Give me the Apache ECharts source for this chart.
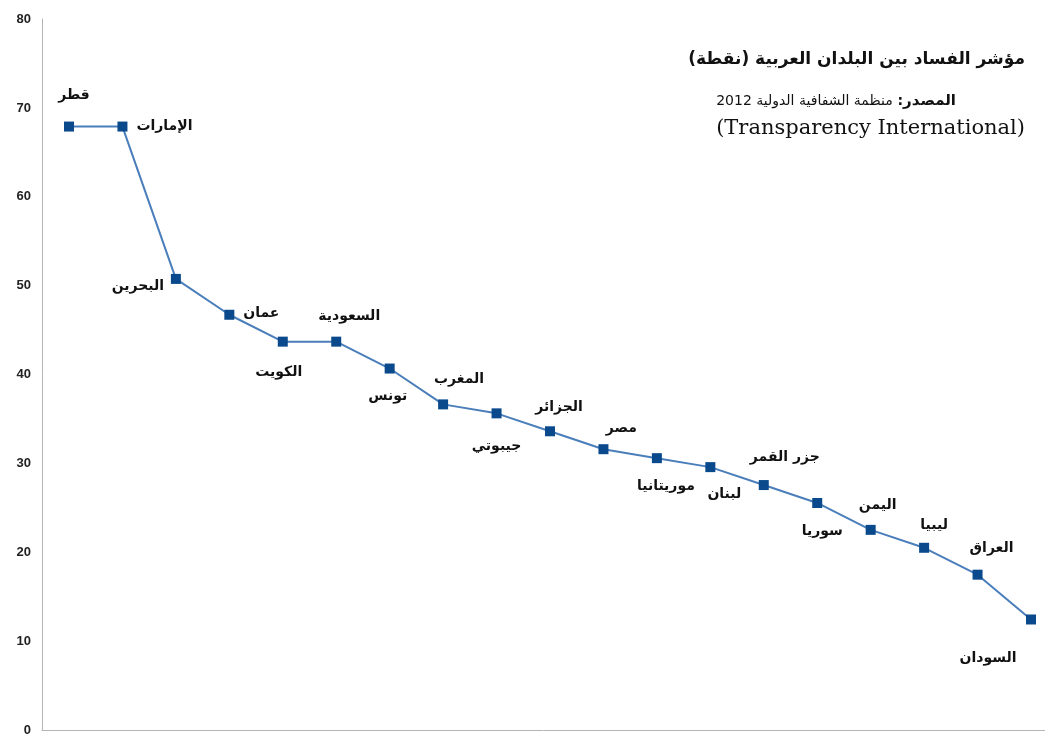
<!DOCTYPE html>
<html><head><meta charset="utf-8">
<script src="https://cdn.jsdelivr.net/npm/echarts@6/dist/echarts.min.js"></script>
<style>html,body{margin:0;padding:0;background:#fff}#c{width:1045px;height:737px}</style>
</head><body><div id="c"></div>
<script>
const countries = ['قطر','الإمارات','البحرين','عمان','الكويت','السعودية','تونس','المغرب','جيبوتي','الجزائر','مصر','موريتانيا','لبنان','جزر القمر','سوريا','اليمن','ليبيا','العراق','السودان'];
const scores = [68,68,51,47,44,44,41,37,36,34,32,31,30,28,26,23,21,18,13];
const yTicks = {min:0, max:80, interval:10};
const titleText = 'مؤشر الفساد بين البلدان العربية (نقطة)';
const sourceLabel = 'المصدر';
const sourceText = 'منظمة الشفافية الدولية 2012';
const sourceEn = '(Transparency International)';

// label offsets (style) relative to each marker centre
const labelOffsets = [[5,-31],[42,0],[-38,7],[32,-1],[-4,31],[13,-25],[-2,28],[16,-25],[0,33],[9,-24],[18,-21],[9,28],[14,27],[21,-28],[5,28],[7,-25],[10,-22],[14,-26],[-43,39]];

const RLM = '\u200F';
const chart = echarts.init(document.getElementById('c'));
chart.setOption({
  animation:false,
  backgroundColor:'#fff',
  grid:[
    {left:69, right:14, top:19, height:717},
    {left:42, right:0, top:19, height:717}
  ],
  title:[{
    text: titleText + RLM,
    right:15, top:46,
    textStyle:{fontFamily:'DejaVu Sans', fontWeight:'bold', fontSize:17, color:'#111'}
  },{
    text:'{r|'+sourceText+RLM+'}{c| :}{b|'+sourceLabel+'}\n{e|'+sourceEn+'}',
    right:15, top:83,
    textStyle:{fontWeight:'normal', rich:{
      r:{fontFamily:'DejaVu Sans', fontWeight:'normal', fontSize:14, color:'#111', lineHeight:27},
      c:{fontFamily:'DejaVu Sans', fontWeight:'bold', fontSize:14, color:'#111', lineHeight:27},
      b:{fontFamily:'DejaVu Sans', fontWeight:'bold', fontSize:15, color:'#111', lineHeight:27},
      e:{fontFamily:'DejaVu Serif', fontWeight:'normal', fontSize:21, color:'#111', lineHeight:27, align:'right'}
    }}
  }],
  xAxis:[
    {type:'category', gridIndex:0, data:countries, boundaryGap:false,
      axisLine:{show:false}, axisTick:{show:false}, axisLabel:{show:false}, splitLine:{show:false}},
    {type:'category', gridIndex:1, data:countries, boundaryGap:true,
      axisLine:{lineStyle:{color:'#b5b5b5', width:1}}, axisTick:{show:false}, axisLabel:{show:false}, splitLine:{show:false}}
  ],
  yAxis:[
    {type:'value', gridIndex:0, min:yTicks.min, max:yTicks.max, interval:yTicks.interval,
      axisLine:{show:false}, axisTick:{show:false}, axisLabel:{show:false}, splitLine:{show:false}},
    {type:'value', gridIndex:1, min:yTicks.min, max:yTicks.max, interval:yTicks.interval,
      axisLine:{show:true, lineStyle:{color:'#b5b5b5', width:1}}, axisTick:{show:false}, splitLine:{show:false},
      axisLabel:{margin:11, fontFamily:'Liberation Sans', fontWeight:'bold', fontSize:13, color:'#222'}}
  ],
  series:[{
    type:'line', xAxisIndex:0, yAxisIndex:0,
    data: scores.map((v,i)=>({value:v, label:{offset:labelOffsets[i]}})),
    symbol:'rect', symbolSize:10,
    lineStyle:{color:'#4a7ebb', width:2},
    itemStyle:{color:'#0a4a8c'},
    label:{show:true, position:'inside', formatter:p=>countries[p.dataIndex],
      fontFamily:'DejaVu Sans', fontWeight:'bold', fontSize:14, color:'#111'}
  }]
});
</script></body></html>
